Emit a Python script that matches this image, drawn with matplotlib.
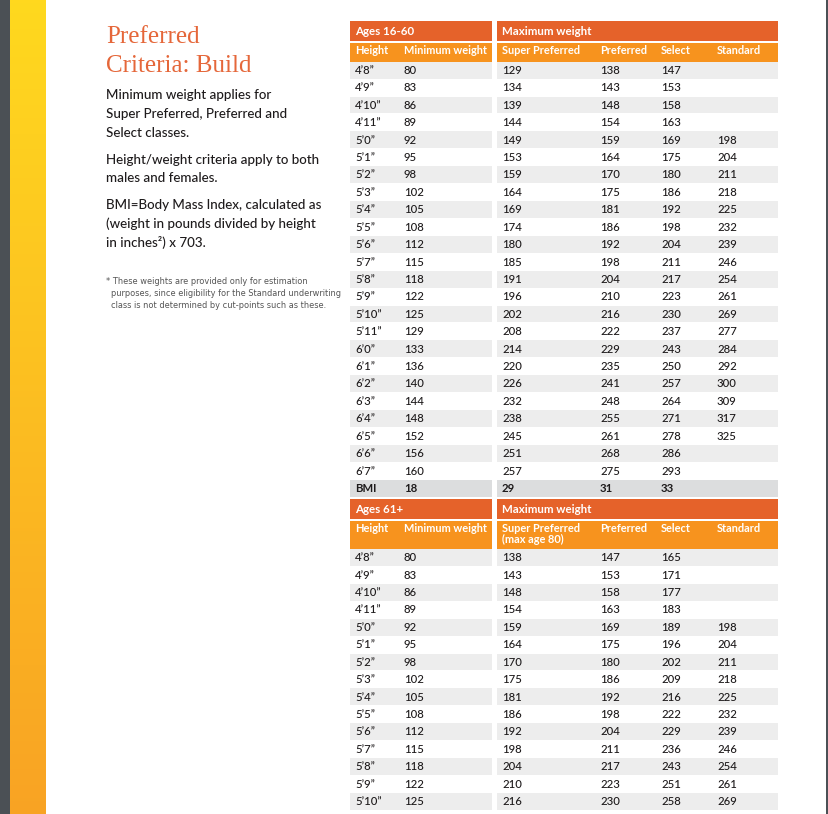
import matplotlib
matplotlib.use("Agg")
import matplotlib.pyplot as plt
from matplotlib.patches import Rectangle
import numpy as np

# ---------------- data ----------------
heights_1 = ["4’8”", "4’9”", "4’10”", "4’11”", "5’0”", "5’1”", "5’2”", "5’3”", "5’4”", "5’5”",
             "5’6”", "5’7”", "5’8”", "5’9”", "5’10”", "5’11”", "6’0”", "6’1”", "6’2”", "6’3”",
             "6’4”", "6’5”", "6’6”", "6’7”"]
min_weight_1 = [80, 83, 86, 89, 92, 95, 98, 102, 105, 108, 112, 115, 118, 122, 125, 129, 133,
                136, 140, 144, 148, 152, 156, 160]
super_pref_1 = [129, 134, 139, 144, 149, 153, 159, 164, 169, 174, 180, 185, 191, 196, 202, 208,
                214, 220, 226, 232, 238, 245, 251, 257]
preferred_1 = [138, 143, 148, 154, 159, 164, 170, 175, 181, 186, 192, 198, 204, 210, 216, 222,
               229, 235, 241, 248, 255, 261, 268, 275]
select_1 = [147, 153, 158, 163, 169, 175, 180, 186, 192, 198, 204, 211, 217, 223, 230, 237,
            243, 250, 257, 264, 271, 278, 286, 293]
standard_1 = [None, None, None, None, 198, 204, 211, 218, 225, 232, 239, 246, 254, 261, 269,
              277, 284, 292, 300, 309, 317, 325, None, None]
bmi_row = ["BMI", "18", "29", "31", "33"]

heights_2 = ["4’8”", "4’9”", "4’10”", "4’11”", "5’0”", "5’1”", "5’2”", "5’3”", "5’4”", "5’5”",
             "5’6”", "5’7”", "5’8”", "5’9”", "5’10”"]
min_weight_2 = [80, 83, 86, 89, 92, 95, 98, 102, 105, 108, 112, 115, 118, 122, 125]
super_pref_2 = [138, 143, 148, 154, 159, 164, 170, 175, 181, 186, 192, 198, 204, 210, 216]
preferred_2 = [147, 153, 158, 163, 169, 175, 180, 186, 192, 198, 204, 211, 217, 223, 230]
select_2 = [165, 171, 177, 183, 189, 196, 202, 209, 216, 222, 229, 236, 243, 251, 258]
standard_2 = [None, None, None, None, 198, 204, 211, 218, 225, 232, 239, 246, 254, 261, 269]

group_titles = [("Ages 16-60", "Maximum weight"), ("Ages 61+", "Maximum weight")]
col_labels_1 = ["Height", "Minimum weight", "Super Preferred", "Preferred", "Select", "Standard"]
col_labels_2 = ["Height", "Minimum weight", "Super Preferred\n(max age 80)", "Preferred", "Select", "Standard"]

title_lines = ["Preferred", "Criteria: Build"]
paragraphs = [
    ["Minimum weight applies for", "Super Preferred, Preferred and", "Select classes."],
    ["Height/weight criteria apply to both", "males and females."],
    ["BMI=Body Mass Index, calculated as", "(weight in pounds divided by height", "in inches²) x 703."],
]
footnote = ["* These weights are provided only for estimation",
            "purposes, since eligibility for the Standard underwriting",
            "class is not determined by cut-points such as these."]

# ---------------- style ----------------
DARK_OR = "#E5622A"
ORANGE = "#F7931E"
SHADE = "#EDEDED"
BMI_SHADE = "#DCDDDE"
TXT = "#1E1B1C"
FONT = ["Lato", "DejaVu Sans"]

fig = plt.figure(figsize=(8.29, 8.14), dpi=100)
ax = fig.add_axes([0, 0, 1, 1])
ax.axis("off")

# left strips
ax.add_patch(Rectangle((0, 0), 10, 814, color="#4B5055", lw=0))
grad = np.linspace(0, 1, 256)[:, None, None]
top = np.array([1.0, 0.85, 0.12])
bot = np.array([0.976, 0.64, 0.14])
img = top * (1 - grad) + bot * grad
ax.imshow(img, extent=(10, 46, 814, 0), aspect="auto", zorder=1)
ax.add_patch(Rectangle((826, 0), 3, 814, color="#4B5055", lw=0))

# left text
for line, y in zip(title_lines, [43, 72]):
    ax.text(106, y, line, fontsize=18, color="#E5673A",
            family=["Liberation Serif", "DejaVu Serif"], va="baseline")
para_y = [[95, 114, 133], [160, 178], [205, 224, 242]]
for lines, ys in zip(paragraphs, para_y):
    for line, y in zip(lines, ys):
        ax.text(106, y, line, fontsize=9.6, color=TXT, family=FONT, va="center",
                weight="medium")
for i, (line, y) in enumerate(zip(footnote, [282, 294, 306])):
    ax.text(106 if i == 0 else 111.5, y, line, fontsize=6.6, color="#555555",
            family=["DejaVu Sans"], fontstretch="condensed", va="center")

# table geometry
LX0, LX1 = 350, 492
RX0, RX1 = 497, 778
col_x = [355, 404, 502, 600, 661, 717]
PITCH = 17.42


def draw_table(y_top, titles, labels, sub_h, rows, bmi=None):
    ax.add_patch(Rectangle((LX0, y_top), LX1 - LX0, 20, color=DARK_OR, lw=0))
    ax.add_patch(Rectangle((RX0, y_top), RX1 - RX0, 20, color=DARK_OR, lw=0))
    ax.text(col_x[0], y_top + 10.5, titles[0], fontsize=8.3, color="white", weight="bold",
            family=FONT, va="center")
    ax.text(col_x[2], y_top + 10.5, titles[1], fontsize=8.3, color="white", weight="bold",
            family=FONT, va="center")
    sy = y_top + 22
    ax.add_patch(Rectangle((LX0, sy), LX1 - LX0, sub_h, color=ORANGE, lw=0))
    ax.add_patch(Rectangle((RX0, sy), RX1 - RX0, sub_h, color=ORANGE, lw=0))
    for x, lab in zip(col_x, labels):
        ax.text(x, sy + 2, lab, fontsize=7.9, color="white", family=FONT, va="top",
                linespacing=0.95, weight="bold")
    ry = sy + sub_h
    n = len(rows[0])
    for i in range(n):
        y0 = ry + i * PITCH
        if i % 2 == 0:
            ax.add_patch(Rectangle((LX0, y0), LX1 - LX0, PITCH - 0.6, color=SHADE, lw=0))
            ax.add_patch(Rectangle((RX0, y0), RX1 - RX0, PITCH - 0.6, color=SHADE, lw=0))
        for x, col in zip(col_x, rows):
            v = col[i]
            if v is not None:
                ax.text(x, y0 + PITCH / 2, str(v), fontsize=8.2, color=TXT, family=FONT,
                        va="center", weight="medium")
    if bmi is not None:
        y0 = ry + n * PITCH
        ax.add_patch(Rectangle((LX0, y0), LX1 - LX0, PITCH, color=BMI_SHADE, lw=0))
        ax.add_patch(Rectangle((RX0, y0), RX1 - RX0, PITCH, color=BMI_SHADE, lw=0))
        for x, v in zip(col_x, bmi):
            ax.text(x, y0 + PITCH / 2, v, fontsize=8.2, color=TXT, weight="bold", family=FONT,
                    va="center")


draw_table(21, group_titles[0], col_labels_1, 18.7,
           [heights_1, min_weight_1, super_pref_1, preferred_1, select_1, standard_1], bmi_row)
draw_table(499, group_titles[1], col_labels_2, 28,
           [heights_2, min_weight_2, super_pref_2, preferred_2, select_2, standard_2])

ax.set_xlim(0, 829)
ax.set_ylim(814, 0)
fig.savefig("out.png", dpi=100, facecolor="white")
